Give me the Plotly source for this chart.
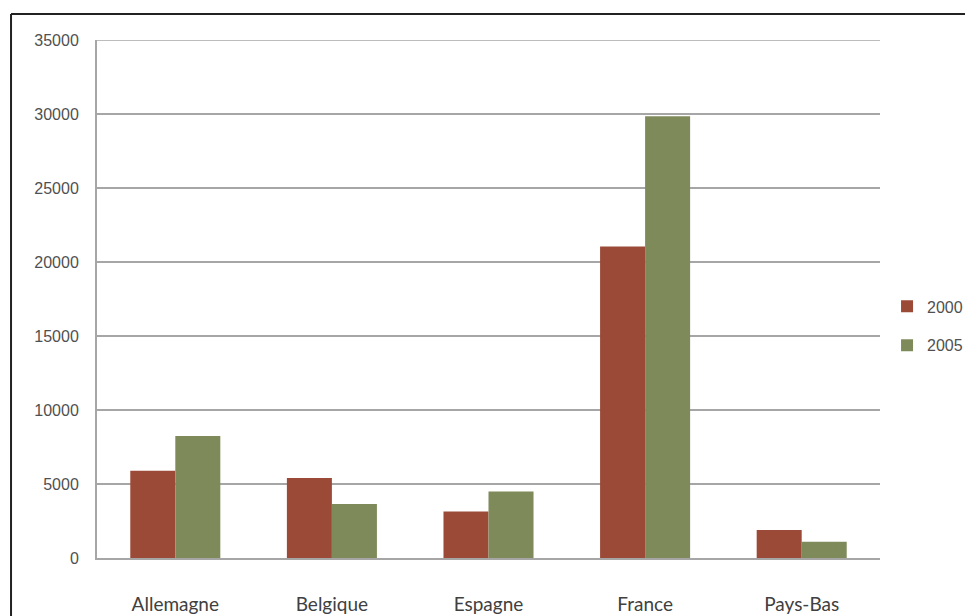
import plotly.graph_objects as go

categories = ["Allemagne", "Belgique", "Espagne", "France", "Pays-Bas"]
series_names = ["2000", "2005"]
values_2000 = [5900, 5400, 3150, 21050, 1900]
values_2005 = [8250, 3650, 4500, 29850, 1100]
y_ticks = [0, 5000, 10000, 15000, 20000, 25000, 30000, 35000]

colors = ["#9b4a37", "#7f8a5b"]
narrow = "Liberation Sans Narrow, Arial Narrow, Liberation Sans, sans-serif"

fig = go.Figure()
for name, vals, col in zip(series_names, [values_2000, values_2005], colors):
    fig.add_trace(go.Bar(x=categories, y=vals, name=name, marker_color=col,
                         marker_line_width=0, legendgroup=name))

fig.update_layout(
    width=973, height=616,
    margin=dict(l=89, r=101, t=32, b=66, autoexpand=False),
    paper_bgcolor="white", plot_bgcolor="white",
    barmode="group", bargap=0.425, bargroupgap=0,
    showlegend=True,
    legend=dict(x=1.009, y=0.448, xanchor="left", yanchor="middle",
                font=dict(family=narrow, size=16, color="#505050"),
                tracegroupgap=15, itemwidth=30,
                bgcolor="rgba(0,0,0,0)"),
    xaxis=dict(showgrid=False, showline=True, linecolor="#a6a6a6", linewidth=2,
               ticks="", ticklabelstandoff=28, automargin=False,
               tickfont=dict(family="Lato, Noto Sans, sans-serif", size=19, color="#404040")),
    yaxis=dict(range=[0, 35000], tickvals=y_ticks, ticktext=[str(v) for v in y_ticks],
               showgrid=True, gridcolor="#a6a6a6", gridwidth=1.5,
               showline=True, linecolor="#a6a6a6", linewidth=2,
               zeroline=False, ticks="", ticklabelstandoff=13, automargin=False,
               tickfont=dict(family=narrow, size=16, color="#505050")),
)

# top gridline at the axis maximum
fig.add_shape(type="line", xref="paper", yref="y", x0=0, x1=1, y0=y_ticks[-1], y1=y_ticks[-1],
              line=dict(color="#a6a6a6", width=1.5))

# figure border (top and left edges visible)
fig.add_shape(type="line", xref="paper", yref="paper", x0=-0.1098, x1=1.2, y0=1.0502, y1=1.0502,
              line=dict(color="#222222", width=2))
fig.add_shape(type="line", xref="paper", yref="paper", x0=-0.1098, x1=-0.1098, y0=1.0502, y1=-0.2,
              line=dict(color="#222222", width=2))

fig.write_html("out.html")
